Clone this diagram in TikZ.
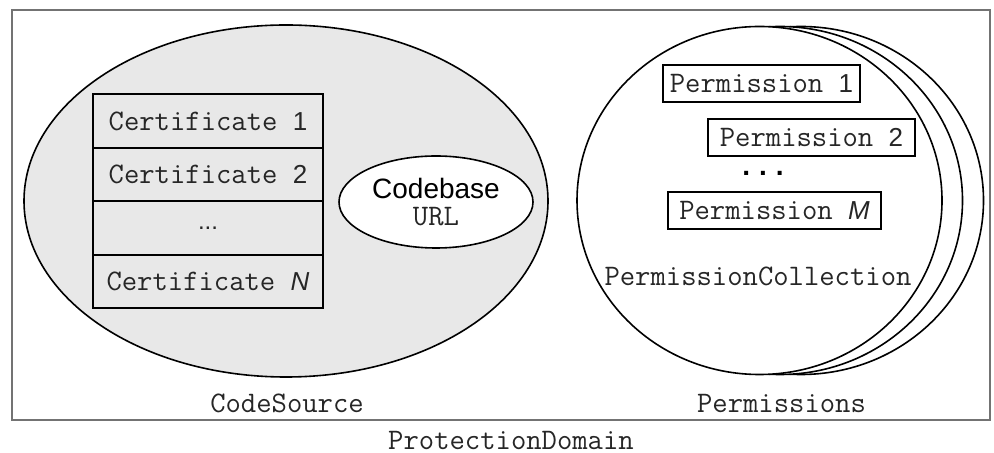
\documentclass[tikz,border=0pt]{standalone}
\usepackage{fontspec}
\setmainfont{Liberation Sans}
\setsansfont{Liberation Sans}
\usetikzlibrary{shapes.geometric}

\begin{document}
\begin{tikzpicture}[x=0.5pt,y=-0.5pt,
  code/.style={font=\ttfamily\fontsize{14.9}{16}\selectfont,text=black!85},
  certrow/.style={code,draw,line width=1pt,minimum width=115pt,minimum height=26.75pt,inner sep=0pt},
  permbox/.style={code,draw,line width=1pt,minimum height=18.5pt,inner sep=0pt},
  num/.style={font=\sffamily\fontsize{13}{15}\selectfont,text=black}]
\useasboundingbox (0,0) rectangle (994,453);
\draw[black!55,line width=1.2pt] (12,10) rectangle (990,420);
\draw[fill=black!9,line width=0.8pt] (286,201) ellipse [x radius=262,y radius=176];
\node[certrow] (cert1) at (208,121) {Certificate \textsf{\fontsize{13}{15}\selectfont 1}};
\node[certrow] (cert2) at (208,174.5) {Certificate \textsf{\fontsize{13}{15}\selectfont 2}};
\node[certrow,font=\sffamily\fontsize{12}{14}\selectfont] (certdots) at (208,228) {...};
\node[certrow] (certN) at (208,281.5) {Certificate \textsf{\fontsize{13}{15}\selectfont\textit{N}}};
\node[draw,fill=white,ellipse,line width=0.8pt,minimum width=97pt,minimum height=46pt,inner sep=0pt,align=center,
  font=\sffamily\fontsize{14}{13.5}\selectfont] (codebase) at (436,202) {Codebase\\{\ttfamily\fontsize{14.9}{13.5}\selectfont\color{black!85}URL}};
\node[code] (codesource) at (287,403) {CodeSource};
\draw[fill=white,line width=0.8pt] (801,200.5) ellipse [x radius=182.5,y radius=174];
\draw[fill=white,line width=0.8pt] (780,200.5) ellipse [x radius=182.5,y radius=174];
\draw[fill=white,line width=0.8pt] (759.5,200.5) ellipse [x radius=182.5,y radius=174];
\node[permbox,minimum width=98.5pt] (perm1) at (761.5,83.5) {Permission \textsf{\fontsize{13}{15}\selectfont 1}};
\node[permbox,minimum width=103.5pt] (perm2) at (811.5,137.5) {Permission \textsf{\fontsize{13}{15}\selectfont 2}};
\node[anchor=base,inner sep=0pt,font=\sffamily\bfseries\fontsize{14}{15}\selectfont] (permdots) at (763,176) {.\hspace{4.5pt}.\hspace{4.5pt}.};
\node[permbox,minimum width=106.5pt] (permM) at (774.5,210.5) {Permission \textsf{\fontsize{13}{15}\selectfont\textit{M}}};
\node[code] (collection) at (758,276) {PermissionCollection};
\node[code] (permissions) at (781.5,403) {Permissions};
\node[code] (domain) at (511,440) {ProtectionDomain};
\end{tikzpicture}
\end{document}
